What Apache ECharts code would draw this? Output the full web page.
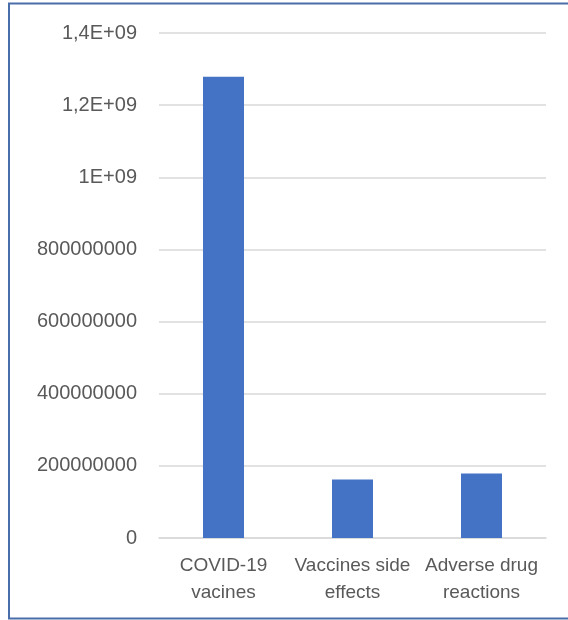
<!DOCTYPE html>
<html>
<head>
<meta charset="utf-8">
<script src="https://cdn.jsdelivr.net/npm/echarts@6/dist/echarts.min.js"></script>
<style>
html,body{margin:0;padding:0;background:#fff;}
#chart{width:568px;height:620px;}
</style>
</head>
<body>
<div id="chart"></div>
<script>
const categories = ['COVID-19\nvacines', 'Vaccines side\neffects', 'Adverse drug\nreactions'];
const values = [1279000000, 162000000, 179000000];
const yTickLabels = ['0', '200000000', '400000000', '600000000', '800000000', '1E+09', '1,2E+09', '1,4E+09'];

const chart = echarts.init(document.getElementById('chart'), null, {renderer: 'canvas'});
chart.setOption({
  animation: false,
  backgroundColor: '#ffffff',
  grid: {left: 159, right: 22, top: 33, bottom: 82, containLabel: false},
  xAxis: {
    type: 'category',
    data: categories,
    axisLine: {show: true, lineStyle: {color: '#d9d9d9', width: 1.5}},
    axisTick: {show: false},
    axisLabel: {
      color: '#595959',
      fontFamily: 'Liberation Sans',
      fontSize: 19,
      lineHeight: 27,
      margin: 14,
      interval: 0
    }
  },
  yAxis: {
    type: 'value',
    min: 0,
    max: 1400000000,
    interval: 200000000,
    axisLine: {show: false},
    axisTick: {show: false},
    splitLine: {lineStyle: {color: '#d9d9d9', width: 1.5}},
    axisLabel: {
      color: '#595959',
      fontFamily: 'Liberation Sans',
      fontSize: 20,
      margin: 22,
      formatter: function (v) { return yTickLabels[Math.round(v / 200000000)]; }
    }
  },
  series: [{
    type: 'bar',
    data: values,
    barWidth: 41,
    itemStyle: {color: '#4472c4'}
  }],
  graphic: [{
    type: 'rect',
    shape: {x: 9, y: 3.5, width: 620, height: 615},
    style: {fill: 'none', stroke: '#4a6ea9', lineWidth: 2}
  }]
});
</script>
</body>
</html>
